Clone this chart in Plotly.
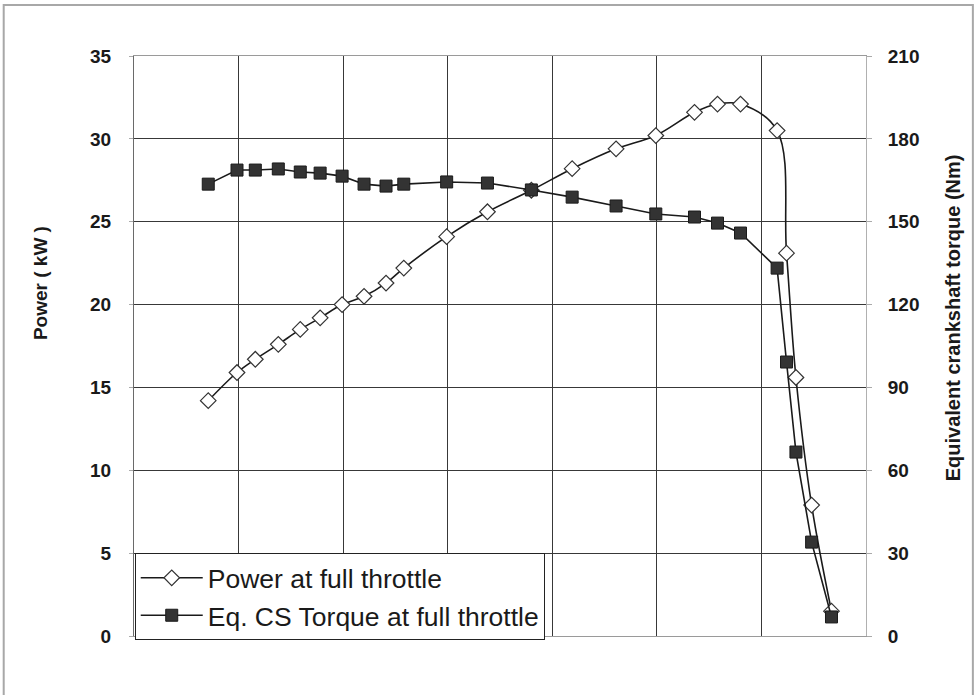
import plotly.graph_objects as go

# Engine speed positions (x axis labels are hidden in the reference; 7 grid intervals)
speed = [710, 985, 1160, 1380, 1590, 1780, 1990, 2200, 2410, 2580, 2990, 3380,
         3800, 4190, 4610, 4990, 5360, 5580, 5800, 6150, 6240, 6330, 6480, 6670]

power_kw = [14.2, 15.9, 16.7, 17.6, 18.5, 19.2, 20.0, 20.5, 21.3, 22.2, 24.1, 25.6,
            26.9, 28.2, 29.4, 30.2, 31.6, 32.1, 32.1, 30.5, 23.1, 15.6, 7.9, 1.5]

torque_nm = [163.6, 168.7, 168.7, 169.1, 168.0, 167.6, 166.5, 163.6, 162.9, 163.6, 164.4, 164.0,
             161.5, 158.9, 155.7, 152.8, 151.7, 149.5, 145.9, 133.2, 99.2, 66.6, 34.0, 6.9]

power_ticks = [0, 5, 10, 15, 20, 25, 30, 35]
torque_ticks = [0, 30, 60, 90, 120, 150, 180, 210]

FONT = "Liberation Sans, Arial, sans-serif"

fig = go.Figure()
fig.add_trace(go.Scatter(
    x=speed, y=power_kw, name="Power at full throttle",
    mode="lines+markers",
    line=dict(color="#1a1a1a", width=1.6, shape="spline", smoothing=1.0),
    marker=dict(symbol="diamond", size=12, color="white",
                line=dict(color="#333333", width=1.2)),
))
fig.add_trace(go.Scatter(
    x=speed, y=torque_nm, name="Eq. CS Torque at full throttle",
    mode="lines+markers", yaxis="y2",
    line=dict(color="#1a1a1a", width=1.6),
    marker=dict(symbol="square", size=12, color="#333333",
                line=dict(color="#1a1a1a", width=1)),
))

fig.update_layout(
    width=979, height=695,
    margin=dict(l=134, r=113, t=56, b=59),
    paper_bgcolor="white", plot_bgcolor="white",
    font=dict(family=FONT, color="#1a1a1a"),
    showlegend=True,
    legend=dict(x=0.001, y=0.143, xanchor="left", yanchor="top",
                bgcolor="white", bordercolor="#222222", borderwidth=1,
                font=dict(size=26.5, family=FONT, color="#1a1a1a"),
                tracegroupgap=0, itemwidth=62),
    xaxis=dict(range=[0, 7000], dtick=1000, tick0=0, showticklabels=False,
               showgrid=True, gridcolor="#383838", gridwidth=1,
               showline=True, linecolor="#9a9a9a", linewidth=1, mirror=True,
               zeroline=False, ticks=""),
    yaxis=dict(range=[0, 35], tickvals=power_ticks, showgrid=True,
               gridcolor="#383838", gridwidth=1, zeroline=False,
               showline=True, linecolor="#6a6a6a", linewidth=1,
               ticks="outside", ticklen=4, tickcolor="#aaaaaa",
               ticklabelstandoff=14,
               tickfont=dict(size=19, family=FONT, color="#1a1a1a", weight="bold")),
    yaxis2=dict(range=[0, 210], tickvals=torque_ticks, overlaying="y", side="right",
                showgrid=False, zeroline=False,
                showline=True, linecolor="#b0b0b0", linewidth=1,
                ticks="outside", ticklen=5, tickcolor="#aaaaaa",
                ticklabelstandoff=12,
                tickfont=dict(size=19, family=FONT, color="#1a1a1a", weight="bold")),
    annotations=[
        dict(text="<b>Power ( kW )</b>", xref="paper", yref="paper",
             x=-0.128, y=0.609, textangle=-90, showarrow=False,
             font=dict(size=19, family=FONT, color="#1a1a1a"),
             xanchor="center", yanchor="middle"),
        dict(text="<b>Equivalent crankshaft torque (Nm)</b>", xref="paper", yref="paper",
             x=1.119, y=0.548, textangle=-90, showarrow=False,
             font=dict(size=20, family=FONT, color="#1a1a1a"),
             xanchor="center", yanchor="middle"),
    ],
    shapes=[
        dict(type="rect", xref="paper", yref="paper",
             x0=-0.178, x1=1.146, y0=-0.12, y1=1.088,
             line=dict(color="#a8a8a8", width=2), fillcolor="rgba(0,0,0,0)",
             layer="below"),
    ],
)

fig.write_html("out.html",
               config={"displayModeBar": False},
               post_script="document.body.style.margin='0';document.body.style.padding='0';")
